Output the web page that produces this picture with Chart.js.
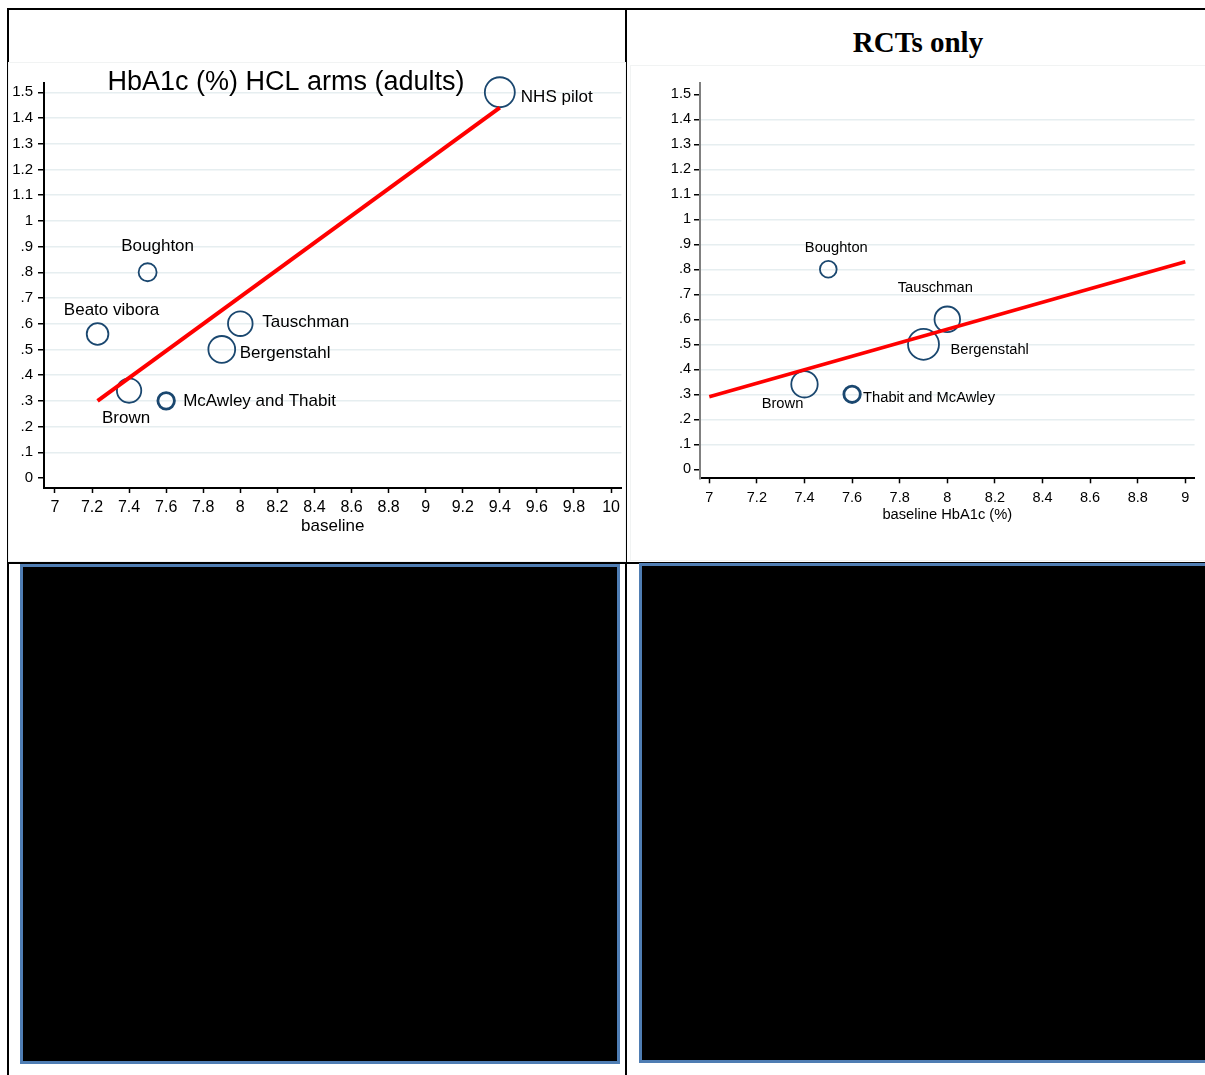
<!DOCTYPE html>
<html>
<head>
<meta charset="utf-8">
<script src="https://cdn.jsdelivr.net/npm/chart.js@4.4.1/dist/chart.umd.min.js"></script>
<style>
  html, body { margin: 0; padding: 0; background: #fff; }
  body { width: 1205px; height: 1075px; position: relative; overflow: hidden; }
  .rule { position: absolute; background: #000; }
  .panel { position: absolute; background: #fff; outline: 1px solid #f1f3f3; }
  #rctTitle {
    position: absolute; left: 626px; width: 584px; top: 24px;
    text-align: center; color: #000;
    font-family: "Liberation Serif", "Times New Roman", serif;
    font-weight: bold; font-size: 29px; line-height: 36px;
  }
  .blackbox { position: absolute; background: #000; border: 3px solid #4f7db3; box-sizing: border-box; }
</style>
</head>
<body>

<div class="rule" style="left:7px; top:8px; width:1198px; height:2px;"></div>
<div class="rule" style="left:7px; top:8px; width:2px; height:1067px;"></div>
<div class="rule" style="left:625px; top:8px; width:2px; height:1067px;"></div>
<div class="rule" style="left:7px; top:562px; width:1198px; height:2px;"></div>

<div id="rctTitle">RCTs only</div>

<canvas id="allChart" class="panel" width="616" height="498" style="left:9px; top:63px;"></canvas>
<canvas id="rctChart" class="panel" width="574" height="494" style="left:631px; top:66px;"></canvas>

<div class="blackbox" style="left:20px; top:564px; width:600px; height:500px;"></div>
<div class="blackbox" style="left:639px; top:563px; width:600px; height:500px;"></div>

<script>
// ---- HCL arms (adults), all studies ----
const allStudies = ['NHS pilot', 'Boughton', 'Beato vibora', 'Tauschman', 'Bergenstahl', 'Brown', 'McAwley and Thabit'];
const allBaseline = [9.4, 7.5, 7.23, 8.0, 7.9, 7.4, 7.6];
const allChange = [1.5, 0.8, 0.56, 0.6, 0.5, 0.34, 0.3];
const allWeight = [256, 100, 140, 177, 207, 174, 86];   // marker area weights
const allFitX = [7.23, 9.4];
const allFitY = [0.30, 1.44];
const allXTicks = [7, 7.2, 7.4, 7.6, 7.8, 8, 8.2, 8.4, 8.6, 8.8, 9, 9.2, 9.4, 9.6, 9.8, 10];
const allXTickLabels = ['7', '7.2', '7.4', '7.6', '7.8', '8', '8.2', '8.4', '8.6', '8.8', '9', '9.2', '9.4', '9.6', '9.8', '10'];

// ---- RCTs only ----
const rctStudies = ['Boughton', 'Tauschman', 'Bergenstahl', 'Brown', 'Thabit and McAwley'];
const rctBaseline = [7.5, 8.0, 7.9, 7.4, 7.6];
const rctChange = [0.8, 0.6, 0.5, 0.34, 0.3];
const rctWeight = [88, 190, 272, 202, 85];
const rctFitX = [7, 9];
const rctFitY = [0.29, 0.83];
const rctXTicks = [7, 7.2, 7.4, 7.6, 7.8, 8, 8.2, 8.4, 8.6, 8.8, 9];
const rctXTickLabels = ['7', '7.2', '7.4', '7.6', '7.8', '8', '8.2', '8.4', '8.6', '8.8', '9'];

// shared y axis
const yTicks = [0, 0.1, 0.2, 0.3, 0.4, 0.5, 0.6, 0.7, 0.8, 0.9, 1, 1.1, 1.2, 1.3, 1.4, 1.5];
const yTickLabels = ['0', '.1', '.2', '.3', '.4', '.5', '.6', '.7', '.8', '.9', '1', '1.1', '1.2', '1.3', '1.4', '1.5'];

Chart.defaults.font.family = '"Liberation Sans", Arial, sans-serif';
Chart.defaults.color = '#000';

// study names next to the circles, [dx, dy, align] from the point centre
const pointLabels = {
  id: 'pointLabels',
  afterDatasetsDraw(chart, args, opts) {
    const ds = chart.data.datasets[1];
    const meta = chart.getDatasetMeta(1);
    const c = chart.ctx;
    c.save();
    c.font = opts.size + 'px "Liberation Sans", Arial, sans-serif';
    c.fillStyle = '#000';
    c.textBaseline = 'middle';
    meta.data.forEach((pt, i) => {
      const place = opts.place[i];
      c.textAlign = place[2];
      c.fillText(ds.studyNames[i], pt.x + place[0], pt.y + place[1]);
    });
    c.restore();
  }
};

const panelTitle = {
  id: 'panelTitle',
  afterDraw(chart, args, opts) {
    if (!opts.text) return;
    const c = chart.ctx;
    c.save();
    c.font = opts.size + 'px "Liberation Sans", Arial, sans-serif';
    c.fillStyle = '#000';
    c.textAlign = 'center';
    c.textBaseline = 'alphabetic';
    c.fillText(opts.text, opts.x, opts.y);
    c.restore();
  }
};

function toPoints(xs, ys) {
  return xs.map((x, i) => ({ x: x, y: ys[i] }));
}

function drawPanel(id, p) {
  return new Chart(document.getElementById(id), {
    type: 'scatter',
    data: {
      datasets: [
        {
          type: 'line',
          data: toPoints(p.fitX, p.fitY),
          borderColor: '#ff0000',
          borderWidth: p.fitWidth,
          pointRadius: 0,
          fill: false,
          clip: false,
          order: 0
        },
        {
          data: toPoints(p.x, p.y),
          studyNames: p.names,
          pointRadius: c => Math.sqrt(p.w[c.dataIndex]) - 1,
          pointBorderWidth: p.borderWidths,
          pointBorderColor: '#1a476f',
          pointBackgroundColor: 'rgba(0,0,0,0)',
          clip: false,
          order: 1
        }
      ]
    },
    options: {
      responsive: false,
      animation: false,
      events: [],
      layout: { padding: p.padding, autoPadding: false },
      plugins: {
        legend: { display: false },
        tooltip: { enabled: false },
        pointLabels: { size: p.labelSize, place: p.place },
        panelTitle: p.title || {}
      },
      scales: {
        x: {
          type: 'linear',
          min: p.xMin, max: p.xMax,
          afterBuildTicks: s => { s.ticks = p.xTicks.map(v => ({ value: v })); },
          afterFit: s => { s.height = p.xHeight; },
          ticks: {
            callback: (v, i) => p.xTickLabels[i],
            font: { size: p.tickSize },
            padding: p.xPad,
            autoSkip: false,
            maxRotation: 0
          },
          grid: { drawOnChartArea: false, tickLength: 5, tickColor: '#000', tickWidth: 1.5 },
          border: { color: '#000', width: 2 },
          title: { display: true, text: p.xTitle, font: { size: p.xTitleSize }, padding: { top: 0, bottom: p.xTitlePad } }
        },
        y: {
          min: p.yMin, max: p.yMax,
          afterBuildTicks: s => { s.ticks = yTicks.map(v => ({ value: v })); },
          afterFit: s => { s.width = p.yWidth; },
          ticks: {
            callback: (v, i) => yTickLabels[i],
            font: { size: p.yTickSize },
            padding: p.yPad
          },
          grid: {
            color: c => p.noGrid.includes(c.index) ? 'rgba(0,0,0,0)' : '#e6eef0',
            lineWidth: 1.5,
            tickLength: 6,
            tickColor: '#000',
            tickWidth: 1.5
          },
          border: { color: p.yAxisColor, width: 2 }
        }
      }
    },
    plugins: [pointLabels, panelTitle]
  });
}

drawPanel('allChart', {
  names: allStudies, x: allBaseline, y: allChange, w: allWeight,
  fitX: allFitX, fitY: allFitY, fitWidth: 4,
  borderWidths: [1.8, 1.8, 1.8, 1.8, 1.8, 1.8, 2.8],
  xTicks: allXTicks, xTickLabels: allXTickLabels,
  xMin: 6.941, xMax: 10.056, yMin: -0.039, yMax: 1.536,
  padding: { left: 0, top: 20, right: 3, bottom: 0 },
  xHeight: 73, yWidth: 35, xPad: 5, yPad: 5,
  tickSize: 16, yTickSize: 15,
  xTitle: 'baseline', xTitleSize: 17, xTitlePad: 24,
  yAxisColor: '#000', noGrid: [0],
  labelSize: 17,
  place: [[21, 5, 'left'], [10, -26, 'center'], [14, -24, 'center'], [22, -1, 'left'],
          [18, 4, 'left'], [-3, 28, 'center'], [17, 0, 'left']],
  title: { text: 'HbA1c (%) HCL arms (adults)', size: 27, x: 277, y: 27 }
});

drawPanel('rctChart', {
  names: rctStudies, x: rctBaseline, y: rctChange, w: rctWeight,
  fitX: rctFitX, fitY: rctFitY, fitWidth: 3.5,
  borderWidths: [1.8, 1.8, 1.8, 1.8, 2.8],
  xTicks: rctXTicks, xTickLabels: rctXTickLabels,
  xMin: 6.961, xMax: 9.039, yMin: -0.036, yMax: 1.545,
  padding: { left: 0, top: 17, right: 10.4, bottom: 0 },
  xHeight: 81.7, yWidth: 69, xPad: 6, yPad: 3,
  tickSize: 14.5, yTickSize: 14.5,
  xTitle: 'baseline HbA1c (%)', xTitleSize: 14.7, xTitlePad: 36,
  yAxisColor: '#808080', noGrid: [0, 15],
  labelSize: 14.7,
  place: [[8, -21, 'center'], [-12, -31, 'center'], [27, 6, 'left'], [-22, 20, 'center'], [11, 4, 'left']]
});
</script>
</body>
</html>
